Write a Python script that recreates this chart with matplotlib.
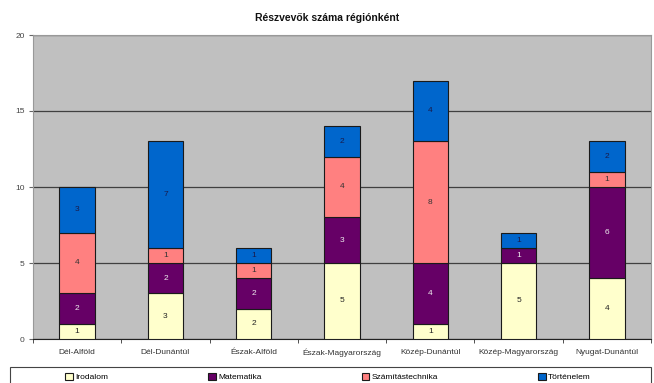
import matplotlib
matplotlib.use("Agg")
import matplotlib.pyplot as plt
import numpy as np
from matplotlib.patches import Rectangle

plt.rcParams['font.family'] = ['Liberation Sans', 'DejaVu Sans']

regions = ["Dél-Alföld", "Dél-Dunántúl", "Észak-Alföld", "Észak-Magyarország",
           "Közép-Dunántúl", "Közép-Magyarország", "Nyugat-Dunántúl"]
irodalom = [1, 3, 2, 5, 1, 5, 4]
matematika = [2, 2, 2, 3, 4, 1, 6]
szamitastechnika = [4, 1, 1, 4, 8, 0, 1]
tortenelem = [3, 7, 1, 2, 4, 1, 2]
series_names = ["Irodalom", "Matematika", "Számítástechnika", "Történelem"]
series_vals = [irodalom, matematika, szamitastechnika, tortenelem]
colors = ["#FFFFCC", "#660066", "#FF8080", "#0066CC"]
label_colors = ["#222222", "#EEEEEE", "#333333", "#1a1a4a"]
title = "Részvevők száma régiónként"
yticks = [0, 5, 10, 15, 20]

fig = plt.figure(figsize=(6.54, 3.83), dpi=100)
ax = fig.add_axes([33/654, 1-339/383, (651-33)/654, (339-35)/383])
ax.set_facecolor("#C0C0C0")

x = np.arange(len(regions))
bottom = np.zeros(len(regions))
handles = []
for name, vals, c, lc in zip(series_names, series_vals, colors, label_colors):
    vals = np.array(vals, dtype=float)
    bars = ax.bar(x, vals, 0.4, bottom=bottom, color=c, edgecolor="#1a1a1a",
                  linewidth=0.8, label=name, zorder=3)
    handles.append(bars)
    for xi, b, v in zip(x, bottom, vals):
        if v > 0:
            ax.text(xi, b + v/2, f"{int(v)}", ha="center", va="center",
                    fontsize=6, color=lc, zorder=4)
    bottom += vals

ax.set_xlim(-0.5, len(regions) - 0.5)
ax.set_ylim(0, 20)
ax.set_yticks(yticks)
ax.set_yticklabels([str(v) for v in yticks], fontsize=6, color="#444444")
ax.yaxis.grid(True, color="#404040", linewidth=0.9, zorder=1)
ax.set_axisbelow(True)
ax.set_xticks(x)
ax.set_xticklabels(regions, fontsize=6, color="#333333")
ax.set_xticks(np.arange(len(regions) + 1) - 0.5, minor=True)
ax.tick_params(axis="x", which="major", length=0, pad=7)
ax.tick_params(axis="x", which="minor", length=3, color="#333333")
ax.tick_params(axis="y", length=3, color="#666666", pad=3)
for s in ["top", "right"]:
    ax.spines[s].set_color("#999999")
    ax.spines[s].set_linewidth(0.8)
ax.spines["left"].set_color("#999999")
ax.spines["bottom"].set_color("#222222")

fig.text(0.5, 1 - 18/383, title, ha="center", va="center", fontsize=7.5,
         fontweight="bold", color="#111111")

leg = fig.legend(handles=handles, labels=series_names, loc="center left",
                 bbox_to_anchor=(62/654, 1 - 377/383), ncol=4, fontsize=6,
                 frameon=False, handlelength=0.9, handleheight=0.9,
                 handletextpad=0.3, columnspacing=12.0, borderaxespad=0)
fig.patches.append(Rectangle((10/654, -0.05), (651-10)/654, 0.05 + (383-367)/383,
                             transform=fig.transFigure, fill=False,
                             edgecolor="#444444", linewidth=0.8))

fig.savefig("out.png", dpi=100)
